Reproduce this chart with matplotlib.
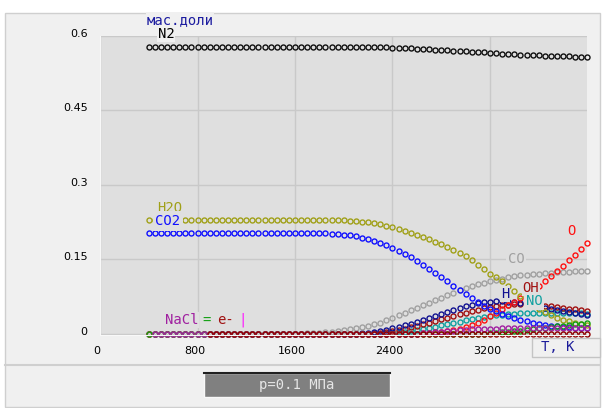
"""Equilibrium composition (mass fractions) of combustion products vs temperature."""

import matplotlib

matplotlib.use("Agg")

import matplotlib.pyplot as plt
import matplotlib.transforms as mtransforms
from matplotlib.lines import Line2D
from matplotlib.patches import Rectangle

W, H = 604, 408

# temperature grid, K
temperature = list(range(400, 4001, 50))

# mass fractions, one row per 400 K (8 points) plus the 4000 K point
n2 = [
    0.578, 0.578, 0.578, 0.578, 0.578, 0.578, 0.578, 0.578,
    0.578, 0.578, 0.578, 0.578, 0.578, 0.578, 0.578, 0.578,
    0.578, 0.578, 0.578, 0.578, 0.578, 0.578, 0.578, 0.578,
    0.578, 0.578, 0.578, 0.578, 0.578, 0.578, 0.578, 0.578,
    0.578, 0.578, 0.578, 0.578, 0.577, 0.577, 0.577, 0.577,
    0.576, 0.576, 0.575, 0.575, 0.574, 0.574, 0.573, 0.572,
    0.572, 0.571, 0.570, 0.570, 0.569, 0.568, 0.567, 0.567,
    0.566, 0.565, 0.564, 0.564, 0.563, 0.562, 0.562, 0.561,
    0.561, 0.560, 0.560, 0.559, 0.559, 0.559, 0.558, 0.558,
    0.558,
]
h2o = [
    0.228, 0.228, 0.228, 0.228, 0.228, 0.228, 0.228, 0.228,
    0.228, 0.228, 0.228, 0.228, 0.228, 0.228, 0.228, 0.228,
    0.228, 0.228, 0.228, 0.228, 0.228, 0.228, 0.228, 0.228,
    0.228, 0.228, 0.228, 0.228, 0.228, 0.228, 0.228, 0.228,
    0.228, 0.227, 0.226, 0.225, 0.224, 0.222, 0.220, 0.217,
    0.214, 0.211, 0.207, 0.203, 0.199, 0.195, 0.190, 0.185,
    0.180, 0.174, 0.168, 0.162, 0.156, 0.148, 0.139, 0.130,
    0.121, 0.113, 0.105, 0.095, 0.085, 0.076, 0.067, 0.058,
    0.050, 0.043, 0.037, 0.032, 0.028, 0.025, 0.022, 0.020,
    0.018,
]
co2 = [
    0.203, 0.203, 0.203, 0.203, 0.203, 0.203, 0.203, 0.203,
    0.203, 0.203, 0.203, 0.203, 0.203, 0.203, 0.203, 0.203,
    0.203, 0.203, 0.203, 0.203, 0.203, 0.203, 0.203, 0.203,
    0.203, 0.203, 0.203, 0.203, 0.202, 0.202, 0.201, 0.200,
    0.199, 0.198, 0.196, 0.193, 0.190, 0.187, 0.183, 0.178,
    0.173, 0.167, 0.161, 0.154, 0.147, 0.139, 0.131, 0.122,
    0.113, 0.105, 0.096, 0.087, 0.079, 0.071, 0.063, 0.056,
    0.050, 0.045, 0.040, 0.036, 0.032, 0.028, 0.025, 0.022,
    0.020, 0.018, 0.016, 0.015, 0.014, 0.013, 0.012, 0.011,
    0.011,
]
co = [
    0.0, 0.0, 0.0, 0.0, 0.0, 0.0, 0.0, 0.0,
    0.0, 0.0, 0.0, 0.0, 0.0, 0.0, 0.0, 0.0,
    0.0, 0.0, 0.0, 0.0, 0.0, 0.0, 0.0, 0.0,
    0.0, 0.0, 0.001, 0.001, 0.002, 0.003, 0.004, 0.005,
    0.007, 0.009, 0.011, 0.013, 0.016, 0.019, 0.022, 0.027,
    0.032, 0.037, 0.042, 0.047, 0.052, 0.057, 0.062, 0.067,
    0.072, 0.077, 0.082, 0.087, 0.091, 0.095, 0.099, 0.102,
    0.105, 0.108, 0.110, 0.113, 0.115, 0.117, 0.118, 0.120,
    0.121, 0.122, 0.123, 0.124, 0.125, 0.125, 0.126, 0.126,
    0.127,
]
h2 = [
    0.0, 0.0, 0.0, 0.0, 0.0, 0.0, 0.0, 0.0,
    0.0, 0.0, 0.0, 0.0, 0.0, 0.0, 0.0, 0.0,
    0.0, 0.0, 0.0, 0.0, 0.0, 0.0, 0.0, 0.0,
    0.0, 0.0, 0.0, 0.0, 0.0, 0.0, 0.0, 0.0,
    0.0, 0.0, 0.0, 0.001, 0.002, 0.004, 0.006, 0.008,
    0.011, 0.014, 0.017, 0.020, 0.024, 0.028, 0.032, 0.036,
    0.040, 0.044, 0.048, 0.052, 0.055, 0.058, 0.061, 0.063,
    0.064, 0.065, 0.065, 0.064, 0.063, 0.061, 0.059, 0.057,
    0.055, 0.052, 0.050, 0.047, 0.045, 0.043, 0.041, 0.039,
    0.037,
]
oh = [
    0.0, 0.0, 0.0, 0.0, 0.0, 0.0, 0.0, 0.0,
    0.0, 0.0, 0.0, 0.0, 0.0, 0.0, 0.0, 0.0,
    0.0, 0.0, 0.0, 0.0, 0.0, 0.0, 0.0, 0.0,
    0.0, 0.0, 0.0, 0.0, 0.0, 0.0, 0.0, 0.0,
    0.0, 0.0, 0.0, 0.0, 0.0, 0.001, 0.002, 0.004,
    0.006, 0.008, 0.010, 0.013, 0.016, 0.019, 0.022, 0.025,
    0.029, 0.032, 0.036, 0.039, 0.042, 0.045, 0.048, 0.051,
    0.053, 0.055, 0.057, 0.058, 0.059, 0.059, 0.059, 0.058,
    0.057, 0.056, 0.055, 0.053, 0.052, 0.050, 0.049, 0.047,
    0.046,
]
no = [
    0.0, 0.0, 0.0, 0.0, 0.0, 0.0, 0.0, 0.0,
    0.0, 0.0, 0.0, 0.0, 0.0, 0.0, 0.0, 0.0,
    0.0, 0.0, 0.0, 0.0, 0.0, 0.0, 0.0, 0.0,
    0.0, 0.0, 0.0, 0.0, 0.0, 0.0, 0.0, 0.0,
    0.0, 0.0, 0.0, 0.0, 0.0, 0.0, 0.0, 0.001,
    0.002, 0.003, 0.004, 0.006, 0.008, 0.010, 0.012, 0.014,
    0.017, 0.019, 0.022, 0.024, 0.027, 0.029, 0.031, 0.033,
    0.035, 0.037, 0.038, 0.039, 0.040, 0.041, 0.042, 0.042,
    0.042, 0.042, 0.042, 0.042, 0.042, 0.041, 0.041, 0.041,
    0.040,
]
o = [
    0.0, 0.0, 0.0, 0.0, 0.0, 0.0, 0.0, 0.0,
    0.0, 0.0, 0.0, 0.0, 0.0, 0.0, 0.0, 0.0,
    0.0, 0.0, 0.0, 0.0, 0.0, 0.0, 0.0, 0.0,
    0.0, 0.0, 0.0, 0.0, 0.0, 0.0, 0.0, 0.0,
    0.0, 0.0, 0.0, 0.0, 0.0, 0.0, 0.0, 0.0,
    0.0, 0.0, 0.0, 0.0, 0.0, 0.001, 0.002, 0.003,
    0.004, 0.006, 0.008, 0.010, 0.013, 0.017, 0.022, 0.028,
    0.035, 0.042, 0.050, 0.057, 0.064, 0.071, 0.079, 0.087,
    0.096, 0.105, 0.115, 0.126, 0.137, 0.148, 0.159, 0.171,
    0.183,
]
nacl = [
    None, 0.0, 0.0, 0.0, 0.0, 0.0, 0.0, 0.0,
    0.0, 0.0, 0.0, 0.0, 0.0, 0.0, 0.0, 0.0,
    0.0, 0.0, 0.0, 0.0, 0.0, 0.0, 0.0, 0.0,
    0.0, 0.0, 0.0, 0.0, 0.0, 0.0, 0.0, 0.0,
    0.0, 0.0, 0.0, 0.0, 0.0, 0.0, 0.0, 0.0,
    0.0, 0.0, 0.0, 0.0, 0.0, 0.001, 0.002, 0.003,
    0.004, 0.005, 0.006, 0.007, 0.008, 0.009, 0.009, 0.010,
    0.010, 0.010, 0.011, 0.011, 0.011, 0.011, 0.011, 0.011,
    0.011, 0.011, 0.011, 0.011, 0.011, 0.011, 0.011, 0.011,
    0.011,
]
na = [
    0.0, 0.0, 0.0, 0.0, 0.0, 0.0, 0.0, 0.0,
    0.0, 0.0, 0.0, 0.0, 0.0, 0.0, 0.0, 0.0,
    0.0, 0.0, 0.0, 0.0, 0.0, 0.0, 0.0, 0.0,
    0.0, 0.0, 0.0, 0.0, 0.0, 0.0, 0.0, 0.0,
    0.0, 0.0, 0.0, 0.0, 0.0, 0.0, 0.0, 0.0,
    0.0, 0.0, 0.0, 0.0, 0.0, 0.0, 0.0, 0.0,
    0.0, 0.0, 0.0, 0.0, 0.0, 0.0, 0.0, 0.0,
    0.001, 0.002, 0.003, 0.004, 0.005, 0.006, 0.008, 0.009,
    0.011, 0.012, 0.014, 0.015, 0.016, 0.018, 0.019, 0.020,
    0.021,
]
electrons = [
    None, None, None, None, None, None, None, None,
    None, None, 0.0, 0.0, 0.0, 0.0, 0.0, 0.0,
    0.0, 0.0, 0.0, 0.0, 0.0, 0.0, 0.0, 0.0,
    0.0, 0.0, 0.0, 0.0, 0.0, 0.0, 0.0, 0.0,
    0.0, 0.0, 0.0, 0.0, 0.0, 0.0, 0.0, 0.0,
    0.0, 0.0, 0.0, 0.0, 0.0, 0.0, 0.0, 0.0,
    0.0, 0.0, 0.0, 0.0, 0.0, 0.0, 0.0, 0.0,
    0.0, 0.0, 0.0, 0.0, 0.0, 0.0, 0.0, 0.0,
    0.0, 0.0, 0.0, 0.0, 0.0, 0.0, 0.0, 0.0,
    0.0,
]

x_ticks = [0, 800, 1600, 2400, 3200]
y_ticks = [0, 0.15, 0.3, 0.45, 0.6]
y_tick_labels = ["0", "0.15", "0.3", "0.45", "0.6"]

# drawing order: bottom first; the zero-line species go last so that
# Na/NaCl show at low T and electrons cover the rest of the zero line
series = [
    (no, "#10a0a0"),
    (oh, "#a01010"),
    (h2, "#101090"),
    (co, "#a0a0a0"),
    (o, "#ff1010"),
    (co2, "#1010ff"),
    (h2o, "#a0a018"),
    (n2, "#101010"),
    (na, "#10a010"),
    (nacl, "#a020a0"),
    (electrons, "#900000"),
]

# species labels: text, colour, pixel centre, box colour, box padding
labels = [
    ("мас.доли", "#1c1ca0", 180, 20, "#f0f0f0", 0.5),
    ("N2", "#000000", 166, 34, "#f0f0f0", 0.5),
    ("H2O", "#a0a018", 170, 208, "#dfdfdf", 0.5),
    ("CO2", "#1010ff", 168, 221, "#dfdfdf", 2.0),
    ("CO", "#a0a0a0", 516, 259, "#dfdfdf", 1.5),
    ("O", "#ff1010", 571, 231, "#dfdfdf", 1.0),
    ("H", "#101090", 505, 294, "#dfdfdf", 0.5),
    ("OH", "#a01010", 531, 288, "#dfdfdf", 0.5),
    ("NO", "#10a0a0", 534, 301, "#dfdfdf", 1.5),
    ("NaCl", "#a020a0", 182, 320, "#dfdfdf", 0.5),
    ("=", "#10a010", 207, 321, "#dfdfdf", 0.0),
    ("e-", "#a01010", 226, 320, "#dfdfdf", 0.5),
    ("|", "#ff10ff", 243, 320, "#dfdfdf", 0.0),
]

MONO = "DejaVu Sans Mono"


def fx(px):
    return px / W


def fy(py):
    return 1 - py / H


fig = plt.figure(figsize=(W / 100, H / 100), dpi=100, facecolor="white")

# window panel and the status strip underneath
fig.patches.append(
    Rectangle((fx(5), fy(407)), fx(600) - fx(5), fy(13) - fy(407),
              transform=fig.transFigure, facecolor="#f0f0f0",
              edgecolor="#cfcfcf", lw=1, zorder=-10)
)
fig.add_artist(Line2D([fx(5), fx(600)], [fy(365), fy(365)],
                      transform=fig.transFigure, color="#cfcfcf", lw=1.5))

ax = fig.add_axes([fx(100), fy(335), fx(587.5) - fx(100), fy(36) - fy(335)])
ax.set_facecolor("#dfdfdf")
ax.set_xlim(0, 4000)
ax.set_ylim(-0.003, 0.6)

for values, color in series:
    ax.plot(temperature, [float("nan") if v is None else v for v in values],
            linestyle="none", marker="o", markersize=3.6, markerfacecolor="none",
            markeredgecolor=color, markeredgewidth=1.0, clip_on=False)

ax.set_xticks(x_ticks)
ax.set_xticklabels([str(t) for t in x_ticks])
ax.set_yticks(y_ticks)
ax.set_yticklabels(y_tick_labels)
ax.grid(True, color="#c9c9c9", lw=1)
ax.set_axisbelow(True)
ax.tick_params(length=0, labelsize=8, colors="#000000")
ax.tick_params(axis="y", pad=9)
ax.tick_params(axis="x", pad=8)
for lab in ax.get_yticklabels():
    lab.set_transform(lab.get_transform()
                      + mtransforms.ScaledTranslation(0, 3 / 100, fig.dpi_scale_trans))
for lab in ax.get_xticklabels():
    lab.set_transform(lab.get_transform()
                      + mtransforms.ScaledTranslation(-3 / 100, 0, fig.dpi_scale_trans))
for side in ("top", "right"):
    ax.spines[side].set_visible(False)
for side in ("left", "bottom"):
    ax.spines[side].set_color("#f8f8f8")

for text, color, px, py, bg, pad in labels:
    fig.text(fx(px), fy(py), text, color=color, fontsize=10, family=MONO,
             ha="center", va="center",
             bbox=dict(facecolor=bg, edgecolor="none", pad=pad))

# axis name box in place of the last x tick
fig.patches.append(
    Rectangle((fx(532), fy(357)), fx(600) - fx(532), fy(338) - fy(357),
              transform=fig.transFigure, facecolor="#f0f0f0",
              edgecolor="#c4c4c4", lw=1)
)
fig.text(fx(558), fy(347), "T, K", color="#1c1c9a", fontsize=10, family=MONO,
         ha="center", va="center")

# pressure indicator
fig.patches.append(
    Rectangle((fx(204), fy(397)), fx(390) - fx(204), fy(373) - fy(397),
              transform=fig.transFigure, facecolor="#808080",
              edgecolor="#f8f8f8", lw=1)
)
fig.add_artist(Line2D([fx(204), fx(390)], [fy(373), fy(373)],
                      transform=fig.transFigure, color="#202020", lw=1.5))
fig.text(fx(297), fy(385), "p=0.1 МПа", color="#e6e6e6", fontsize=10,
         family=MONO, ha="center", va="center")

fig.savefig("out.png", dpi=100, facecolor=fig.get_facecolor())
